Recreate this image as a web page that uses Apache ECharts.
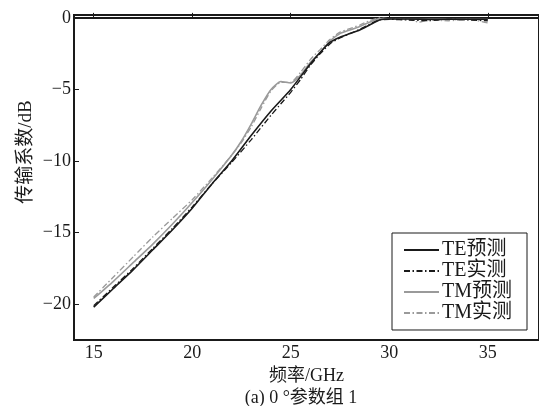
<!DOCTYPE html>
<html>
<head>
<meta charset="utf-8">
<script src="https://cdn.jsdelivr.net/npm/echarts@6/dist/echarts.min.js"></script>
<style>
  html, body { margin: 0; padding: 0; background: #fff; }
  #main { width: 539px; height: 406px; }
</style>
</head>
<body>
<div id="main"></div>
<script>
// 读图估计的数据 (频率 GHz, 传输系数 dB)
var teFreq = [15, 16, 17, 18, 19, 20, 21, 22, 23, 24, 25, 26, 26.5, 27, 27.5, 28, 28.5, 29, 29.5, 30, 31, 32, 33, 34, 35];
var tePred = [-20.2, -18.9, -17.6, -16.2, -14.8, -13.3, -11.6, -10.0, -8.2, -6.5, -5.0, -3.2, -2.4, -1.7, -1.35, -1.1, -0.85, -0.5, -0.15, -0.08, -0.08, -0.1, -0.1, -0.1, -0.1];

var teMeasFreq = [15, 16, 17, 18, 19, 20, 21, 22, 23, 24, 24.5, 25, 25.5, 26, 26.5, 27, 27.5, 28, 28.5, 29, 29.5, 30, 31, 32, 33, 34, 35];
var teMeas = [-20.1, -18.8, -17.5, -16.1, -14.7, -13.2, -11.6, -10.1, -8.5, -6.8, -6.0, -5.2, -4.3, -3.3, -2.5, -1.8, -1.4, -1.1, -0.8, -0.45, -0.15, -0.1, -0.15, -0.2, -0.1, -0.15, -0.2];

var tmFreq = [15, 16, 17, 18, 19, 20, 21, 22, 22.5, 23, 23.5, 24, 24.5, 25, 25.5, 26, 26.5, 27, 27.5, 28, 28.5, 29, 29.5, 30, 31, 32, 33, 34, 35];
var tmPred = [-19.6, -18.4, -17.1, -15.8, -14.4, -12.9, -11.3, -9.6, -8.6, -7.4, -6.1, -5.0, -4.45, -4.55, -4.0, -3.1, -2.4, -1.6, -1.1, -0.85, -0.6, -0.3, -0.05, -0.08, -0.08, -0.08, -0.1, -0.1, -0.1];

var tmMeasFreq = [15, 16, 17, 18, 19, 20, 21, 22, 22.5, 23, 23.5, 24, 24.5, 25, 25.5, 26, 26.5, 27, 27.5, 28, 28.5, 29, 29.5, 30, 31, 31.5, 32, 33, 34, 35];
var tmMeas = [-19.5, -18.1, -16.7, -15.3, -14.0, -12.7, -11.2, -9.6, -8.7, -7.6, -6.3, -5.1, -4.5, -4.5, -3.8, -2.9, -2.2, -1.5, -1.0, -0.75, -0.5, -0.2, 0.0, -0.05, -0.1, -0.3, -0.15, -0.2, -0.1, -0.35];

var xTicks = [15, 20, 25, 30, 35];
var yTicks = [-20, -15, -10, -5, 0];

function pairs(xs, ys) {
    var out = [];
    for (var i = 0; i < xs.length; i++) out.push([xs[i], ys[i]]);
    return out;
}

var FONT = '"Liberation Serif", "Noto Sans CJK SC", serif';
var BLACK = '#1a1a1a';
var GRAY = '#9a9a9a';
var dashDot = [6, 2.5, 1.5, 2.5];

var chart = echarts.init(document.getElementById('main'));
var option = {
    animation: false,
    backgroundColor: '#fff',
    grid: {
        left: 74, top: 15, right: -3, bottom: 66,
        show: true, borderColor: BLACK, borderWidth: 2
    },
    title: {
        text: '(a) 0 °参数组 1',
        left: 296, top: 384, textAlign: 'center',
        textStyle: { fontFamily: FONT, fontSize: 18, fontWeight: 'normal', color: BLACK }
    },
    graphic: [{
        type: 'text', x: 26, y: 152, rotation: Math.PI / 2,
        style: {
            text: '传输系数/dB', fontFamily: FONT, fontSize: 19, fill: BLACK,
            textAlign: 'center', textVerticalAlign: 'middle'
        }
    }],
    legend: {
        orient: 'vertical',
        left: 392, top: 233,
        itemWidth: 35, itemHeight: 14, itemGap: 1,
        padding: [7, 15, 7, 11],
        borderColor: BLACK, borderWidth: 1,
        backgroundColor: '#fff',
        itemStyle: { opacity: 0 },
        textStyle: { fontFamily: FONT, fontSize: 20, color: BLACK, padding: [0, 0, 0, -2] },
        data: ['TE预测', 'TE实测', 'TM预测', 'TM实测']
    },
    xAxis: {
        type: 'value', min: 14, max: 37.6,
        name: '频率/GHz', nameLocation: 'middle', nameGap: 25,
        nameTextStyle: { fontFamily: FONT, fontSize: 18, color: BLACK },
        axisLine: { lineStyle: { color: BLACK, width: 2 } },
        axisTick: { inside: true, length: 5, lineStyle: { color: BLACK }, customValues: xTicks },
        axisLabel: { fontFamily: FONT, fontSize: 18, color: BLACK, margin: 4, customValues: xTicks },
        splitLine: { show: false }
    },
    yAxis: {
        type: 'value', min: -22.5, max: 0.2,
        axisLine: { lineStyle: { color: BLACK, width: 2 } },
        axisTick: { inside: true, length: 5, lineStyle: { color: BLACK }, customValues: yTicks },
        axisLabel: {
            fontFamily: FONT, fontSize: 18, color: BLACK, margin: 3, customValues: yTicks,
            formatter: function (v) { return String(v).replace('-', '\u2212'); }
        },
        splitLine: { show: false }
    },
    series: [
        { name: 'TE预测', type: 'line', symbol: 'none', smooth: 0.2, z: 4,
          lineStyle: { color: BLACK, width: 1.6 }, itemStyle: { color: BLACK },
          data: pairs(teFreq, tePred) },
        { name: 'TE实测', type: 'line', symbol: 'none', smooth: 0.2, z: 3,
          lineStyle: { color: BLACK, width: 1.3, type: dashDot }, itemStyle: { color: BLACK },
          data: pairs(teMeasFreq, teMeas) },
        { name: 'TM预测', type: 'line', symbol: 'none', smooth: 0.2, z: 2,
          lineStyle: { color: GRAY, width: 1.6 }, itemStyle: { color: GRAY },
          data: pairs(tmFreq, tmPred) },
        { name: 'TM实测', type: 'line', symbol: 'none', smooth: 0.2, z: 1,
          lineStyle: { color: GRAY, width: 1.3, type: dashDot }, itemStyle: { color: GRAY },
          data: pairs(tmMeasFreq, tmMeas) }
    ]
};
chart.setOption(option);
</script>
</body>
</html>
